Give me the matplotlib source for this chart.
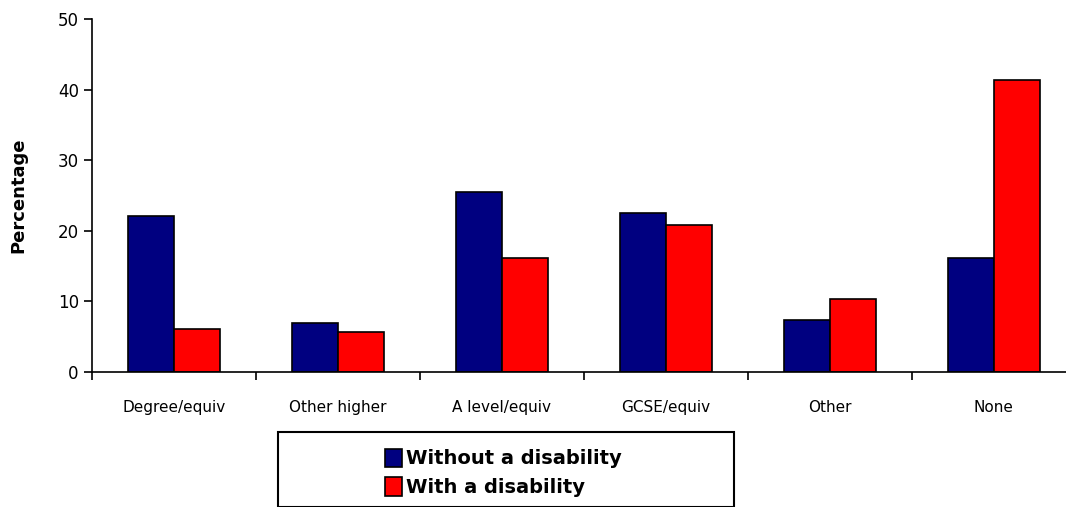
import matplotlib.pyplot as plt
import numpy as np
from matplotlib.patches import Rectangle

categories = ["Degree/equiv", "Other higher", "A level/equiv", "GCSE/equiv", "Other", "None"]
without_dis = [22.1, 6.9, 25.5, 22.5, 7.4, 16.1]
with_dis = [6.1, 5.7, 16.1, 20.8, 10.3, 41.4]

fig = plt.figure(figsize=(10.66, 5.07), dpi=100)
ax = fig.add_axes([0.0863, 0.2663, 0.923, 0.696])

x = np.arange(len(categories))
w = 0.28
ax.bar(x - w / 2, without_dis, w, color="#000080", edgecolor="black", linewidth=1.2, label="Without a disability")
ax.bar(x + w / 2, with_dis, w, color="#ff0000", edgecolor="black", linewidth=1.2, label="With a disability")

ax.set_xlim(-0.5, len(categories) - 0.5)
ax.set_ylim(0, 50)
ax.set_yticks(range(0, 51, 10))
ax.set_xticks(x)
ax.set_xticklabels(categories, fontsize=11)
ax.set_xticks(np.arange(-0.5, len(categories)), minor=True)
ax.tick_params(axis="x", which="major", length=0, pad=20)
ax.tick_params(axis="x", which="minor", length=6, width=1.2, direction="out")
ax.tick_params(axis="y", length=6, width=1.2, labelsize=12)
for s in ["top", "right"]:
    ax.spines[s].set_visible(False)
ax.spines["left"].set_linewidth(1.2)
ax.spines["bottom"].set_linewidth(1.2)
ax.set_ylabel("Percentage", fontsize=13, fontweight="bold", labelpad=22)

# legend frame drawn by hand so it matches the reference box
fig.patches.append(Rectangle((278 / 1066, 0.0), 456 / 1066, 1 - 432 / 507,
                             transform=fig.transFigure, fill=False,
                             edgecolor="black", linewidth=1.5))
leg = fig.legend(loc="upper left", bbox_to_anchor=(368 / 1066, 1 - 432 / 507),
                 prop={"size": 14, "weight": "bold"}, frameon=False,
                 handlelength=0.9, handleheight=1.1,
                 handletextpad=0.2, borderpad=0.35, labelspacing=0.45)

fig.savefig("out.png", dpi=100)
